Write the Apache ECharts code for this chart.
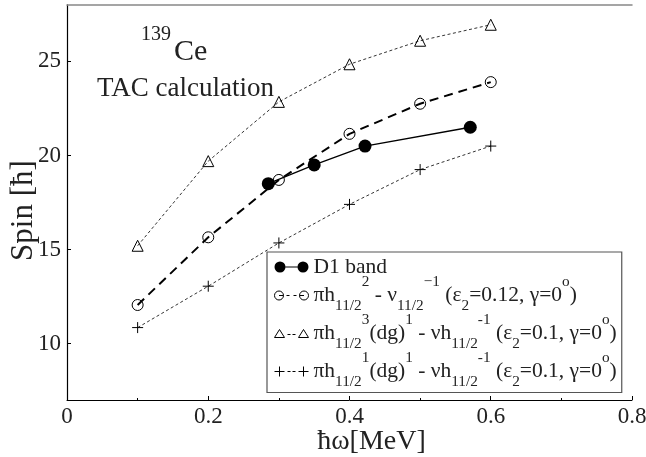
<!DOCTYPE html>
<html>
<head>
<meta charset="utf-8">
<script src="https://cdn.jsdelivr.net/npm/echarts@6/dist/echarts.min.js"></script>
<style>html,body{margin:0;padding:0;background:#fff}#c{width:646px;height:457px}</style>
</head>
<body>
<div id="c"></div>
<script>
// ---- data ----
const omega = [0.1, 0.2, 0.3, 0.4, 0.5, 0.6];
const triSpin = [15.2, 19.7, 22.85, 24.85, 26.1, 26.95];
const circSpin = [12.05, 15.65, 18.7, 21.15, 22.75, 23.9];
const crossSpin = [10.85, 13.05, 15.35, 17.4, 19.25, 20.5];
const d1Omega = [0.285, 0.350, 0.422, 0.571];
const d1Spin = [18.5, 19.5, 20.5, 21.5];
const yTicks = [10, 15, 20, 25];

const FONT = '"Liberation Serif", "Times New Roman", serif';
const zip = (a, b) => a.map((v, i) => [v, b[i]]);

const legendText = {
  'D1 band': 'D1 band',
  'circ': '{m|πh}{sub|11/2}{sup|2}{m| - ν}{sub|11/2}{sup|−1}{m| (ε}{sub|2}{m|=0.12, γ=0}{sup|o}{m|)}',
  'tri': '{m|πh}{sub|11/2}{sup|3}{m|(dg)}{sup|1}{m| - νh}{sub|11/2}{sup|-1}{m| (ε}{sub|2}{m|=0.1, γ=0}{sup|o}{m|)}',
  'cross': '{m|πh}{sub|11/2}{sup|1}{m|(dg)}{sup|1}{m| - νh}{sub|11/2}{sup|-1}{m| (ε}{sub|2}{m|=0.1, γ=0}{sup|o}{m|)}'
};

const plusPath = 'path://M0,5L10,5M5,0L5,10';
const hollow = {color: 'rgba(0,0,0,0)', borderColor: '#000', borderWidth: 1};
const C = '#222';

const chart = echarts.init(document.getElementById('c'), null, {renderer: 'canvas'});
chart.setOption({
  backgroundColor: '#fff',
  animation: false,
  grid: {left: 67, right: 14, top: 5, bottom: 57, containLabel: false, outerBoundsMode: 'none'},
  xAxis: [{
    type: 'value', min: 0, max: 0.8, interval: 0.2, position: 'bottom',
    name: 'ħω[MeV]', nameLocation: 'middle', nameGap: 28, nameMoveOverlap: false,
    nameTextStyle: {fontFamily: FONT, fontSize: 28, color: C, padding: [0, 0, 0, 44]},
    axisLine: {lineStyle: {color: '#000', width: 1}},
    axisTick: {inside: true, length: 4, lineStyle: {color: '#000'}},
    minorTick: {show: true, splitNumber: 2, length: 2, lineStyle: {color: '#000'}},
    axisLabel: {fontFamily: FONT, fontSize: 23, color: C, margin: 5},
    splitLine: {show: false}
  }, {
    type: 'value', min: 0, max: 0.8, position: 'top',
    axisLine: {show: true, lineStyle: {color: '#888', width: 1.5}},
    axisTick: {show: false}, axisLabel: {show: false}, splitLine: {show: false}
  }],
  yAxis: [{
    type: 'value', min: 7, max: 28, position: 'left',
    name: 'Spin [ħ]', nameLocation: 'middle', nameGap: 28, nameMoveOverlap: false,
    nameTextStyle: {fontFamily: FONT, fontSize: 31, color: C, padding: [0, 16, 0, 0]},
    axisLine: {show: true, lineStyle: {color: '#000', width: 1}},
    axisTick: {inside: true, length: 4, customValues: yTicks, lineStyle: {color: '#000'}},
    axisLabel: {fontFamily: FONT, fontSize: 23, color: C, margin: 6, customValues: yTicks},
    splitLine: {show: false}
  }, {
    type: 'value', min: 7, max: 28, position: 'right',
    axisLine: {show: true, lineStyle: {color: '#000', width: 1.2}},
    axisTick: {show: false}, axisLabel: {show: false}, splitLine: {show: false}
  }],
  legend: {
    orient: 'vertical', left: 267, top: 252,
    padding: [3.5, 5, 0, 7], itemGap: -4, itemWidth: 34, itemHeight: 11,
    backgroundColor: '#fff', borderColor: '#555', borderWidth: 1.2,
    selectedMode: false,
    data: [
      {name: 'D1 band', icon: 'path://M0,5.5A5.5,5.5 0 1,0 11,5.5A5.5,5.5 0 1,0 0,5.5ZM11,4.9L23,4.9L23,6.1L11,6.1ZM23,5.5A5.5,5.5 0 1,0 34,5.5A5.5,5.5 0 1,0 23,5.5Z',
       itemStyle: {color: '#000', borderWidth: 0}},
      {name: 'circ', icon: 'path://M0,5.5A4.5,4.5 0 1,0 9,5.5A4.5,4.5 0 1,0 0,5.5M4.5,5.5L9,5.5M12,5.5L15,5.5M19,5.5L22,5.5M25,5.5A4.5,4.5 0 1,0 34,5.5A4.5,4.5 0 1,0 25,5.5M25,5.5L29.5,5.5M0,1L0,1M34,10L34,10',
       itemStyle: {color: 'rgba(0,0,0,0)', borderColor: '#000', borderWidth: 1}},
      {name: 'tri', icon: 'path://M0,9.5L5,1.5L10,9.5ZM13,6.5L16,6.5M18,6.5L21,6.5M24,9.5L29,1.5L34,9.5Z',
       itemStyle: {color: 'rgba(0,0,0,0)', borderColor: '#000', borderWidth: 1}},
      {name: 'cross', icon: 'path://M0,5.5L10,5.5M5,0.5L5,10.5M13,5.5L16,5.5M18,5.5L21,5.5M24,5.5L34,5.5M29,0.5L29,10.5',
       itemStyle: {color: 'rgba(0,0,0,0)', borderColor: '#000', borderWidth: 1}}
    ],
    formatter: n => legendText[n],
    textStyle: {
      fontFamily: FONT, fontSize: 21.5, color: C, lineHeight: 23,
      rich: {
        m: {fontFamily: FONT, fontSize: 21.5, color: C, lineHeight: 22, verticalAlign: 'middle'},
        sub: {fontFamily: FONT, fontSize: 15.3, color: C, lineHeight: 15, verticalAlign: 'middle', padding: [21, 0, 0, 0]},
        sup: {fontFamily: FONT, fontSize: 15.3, color: C, lineHeight: 15, verticalAlign: 'middle', padding: [0, 0, 27, 0]}
      }
    }
  },
  graphic: [
    {type: 'text', x: 141, y: 35, style: {text: '139', font: '20px ' + FONT, fill: C, textAlign: 'left', textVerticalAlign: 'middle'}},
    {type: 'text', x: 174, y: 52, style: {text: 'Ce', font: '30px ' + FONT, fill: C, textAlign: 'left', textVerticalAlign: 'middle'}},
    {type: 'text', x: 97, y: 89, style: {text: 'TAC calculation', font: '27px ' + FONT, fill: C, textAlign: 'left', textVerticalAlign: 'middle'}}
  ],
  series: [
    {name: 'D1 band', type: 'line', data: zip(d1Omega, d1Spin), symbol: 'circle', symbolSize: 13,
     itemStyle: {color: '#000'}, lineStyle: {color: '#000', width: 1.3, type: 'solid'}, z: 5},
    {name: 'circ', type: 'line', data: zip(omega, circSpin), symbol: 'circle', symbolSize: 11,
     itemStyle: hollow, lineStyle: {color: '#000', width: 2, type: [9, 6]}, z: 4},
    {name: 'tri', type: 'line', data: zip(omega, triSpin), symbol: 'triangle', symbolSize: 11,
     itemStyle: hollow, lineStyle: {color: '#000', width: 0.8, type: [3, 2.5]}, z: 3},
    {name: 'cross', type: 'line', data: zip(omega, crossSpin), symbol: plusPath, symbolSize: 11,
     itemStyle: hollow, lineStyle: {color: '#000', width: 0.8, type: [3, 2.5]}, z: 3}
  ]
});
</script>
</body>
</html>
